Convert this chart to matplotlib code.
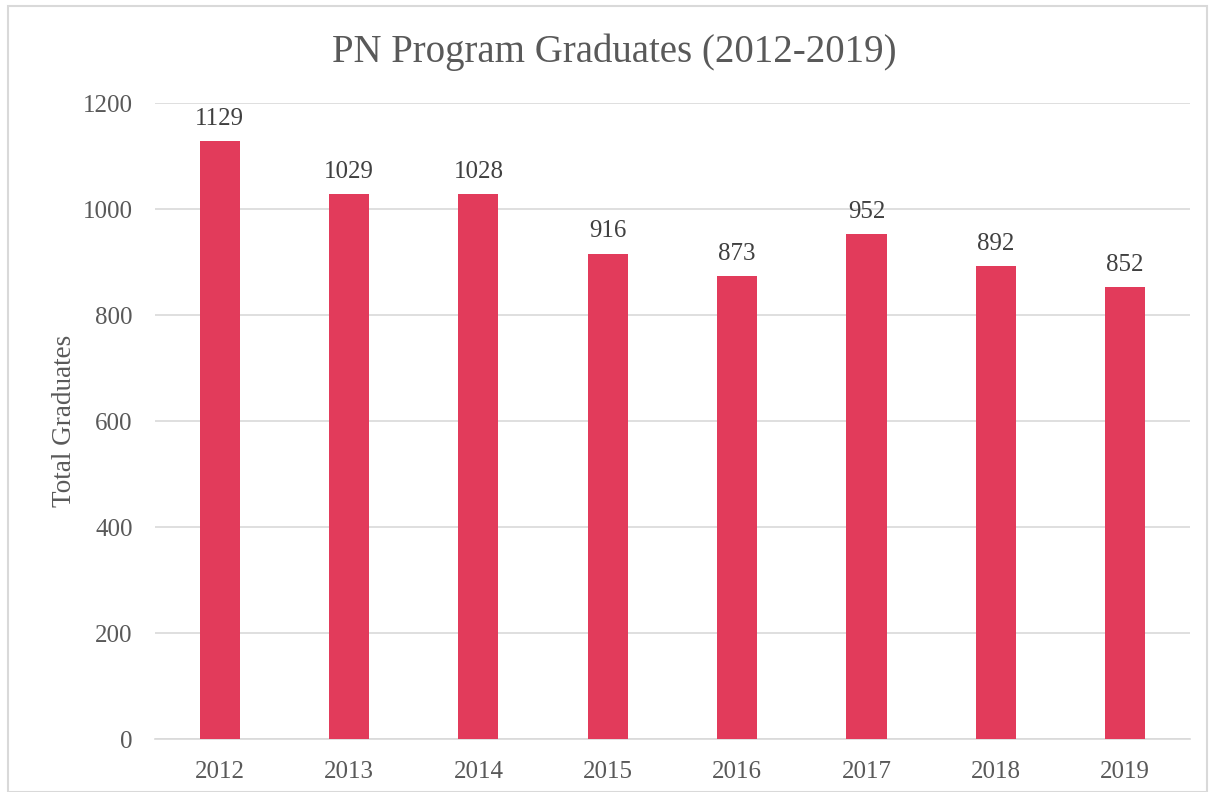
import matplotlib
matplotlib.use("Agg")
import matplotlib.pyplot as plt
from matplotlib.patches import Rectangle

years = ["2012", "2013", "2014", "2015", "2016", "2017", "2018", "2019"]
graduates = [1129, 1029, 1028, 916, 873, 952, 892, 852]
yticks = [0, 200, 400, 600, 800, 1000, 1200]

plt.rcParams['font.family'] = ['Liberation Serif', 'DejaVu Serif']

fig = plt.figure(figsize=(12.09, 7.92), dpi=100)
ax = fig.add_axes([0.1282, 0.0669, 0.856, 0.803])

x = list(range(len(years)))
bars = ax.bar(x, graduates, width=0.31, color="#E23B5B", zorder=3)
for xi, v in zip(x, graduates):
    ax.annotate(str(v), (xi, v), xytext=(0, 8), textcoords="offset points",
                ha="center", va="bottom", fontsize=18, color="#404040")

ax.set_xlim(-0.5, len(years) - 0.5)
ax.set_ylim(0, 1200)
ax.set_yticks(yticks)
ax.set_yticklabels([str(t) for t in yticks])
ax.set_xticks(x)
ax.set_xticklabels(years)
ax.tick_params(axis='both', length=0, labelsize=18, labelcolor="#595959")
ax.tick_params(axis='y', pad=16)
ax.tick_params(axis='x', pad=16)
ax.grid(axis='y', color="#D9D9D9", linewidth=1.2, zorder=0)
for s in ["top", "right", "left"]:
    ax.spines[s].set_visible(False)
ax.spines["bottom"].set_color("#D9D9D9")
ax.spines["bottom"].set_linewidth(1.2)

ax.set_ylabel("Total Graduates", fontsize=19.5, color="#595959", labelpad=4)
fig.text(0.508, 0.934, "PN Program Graduates (2012-2019)", ha="center", va="center",
         fontsize=28, color="#595959")

fig.patches.append(Rectangle((8/1209, 0), 1 - 8/1209 - 2/1209, 1 - 6/792, transform=fig.transFigure,
                             fill=False, edgecolor="#D9D9D9", linewidth=1.5))

fig.savefig("out.png", dpi=100)
